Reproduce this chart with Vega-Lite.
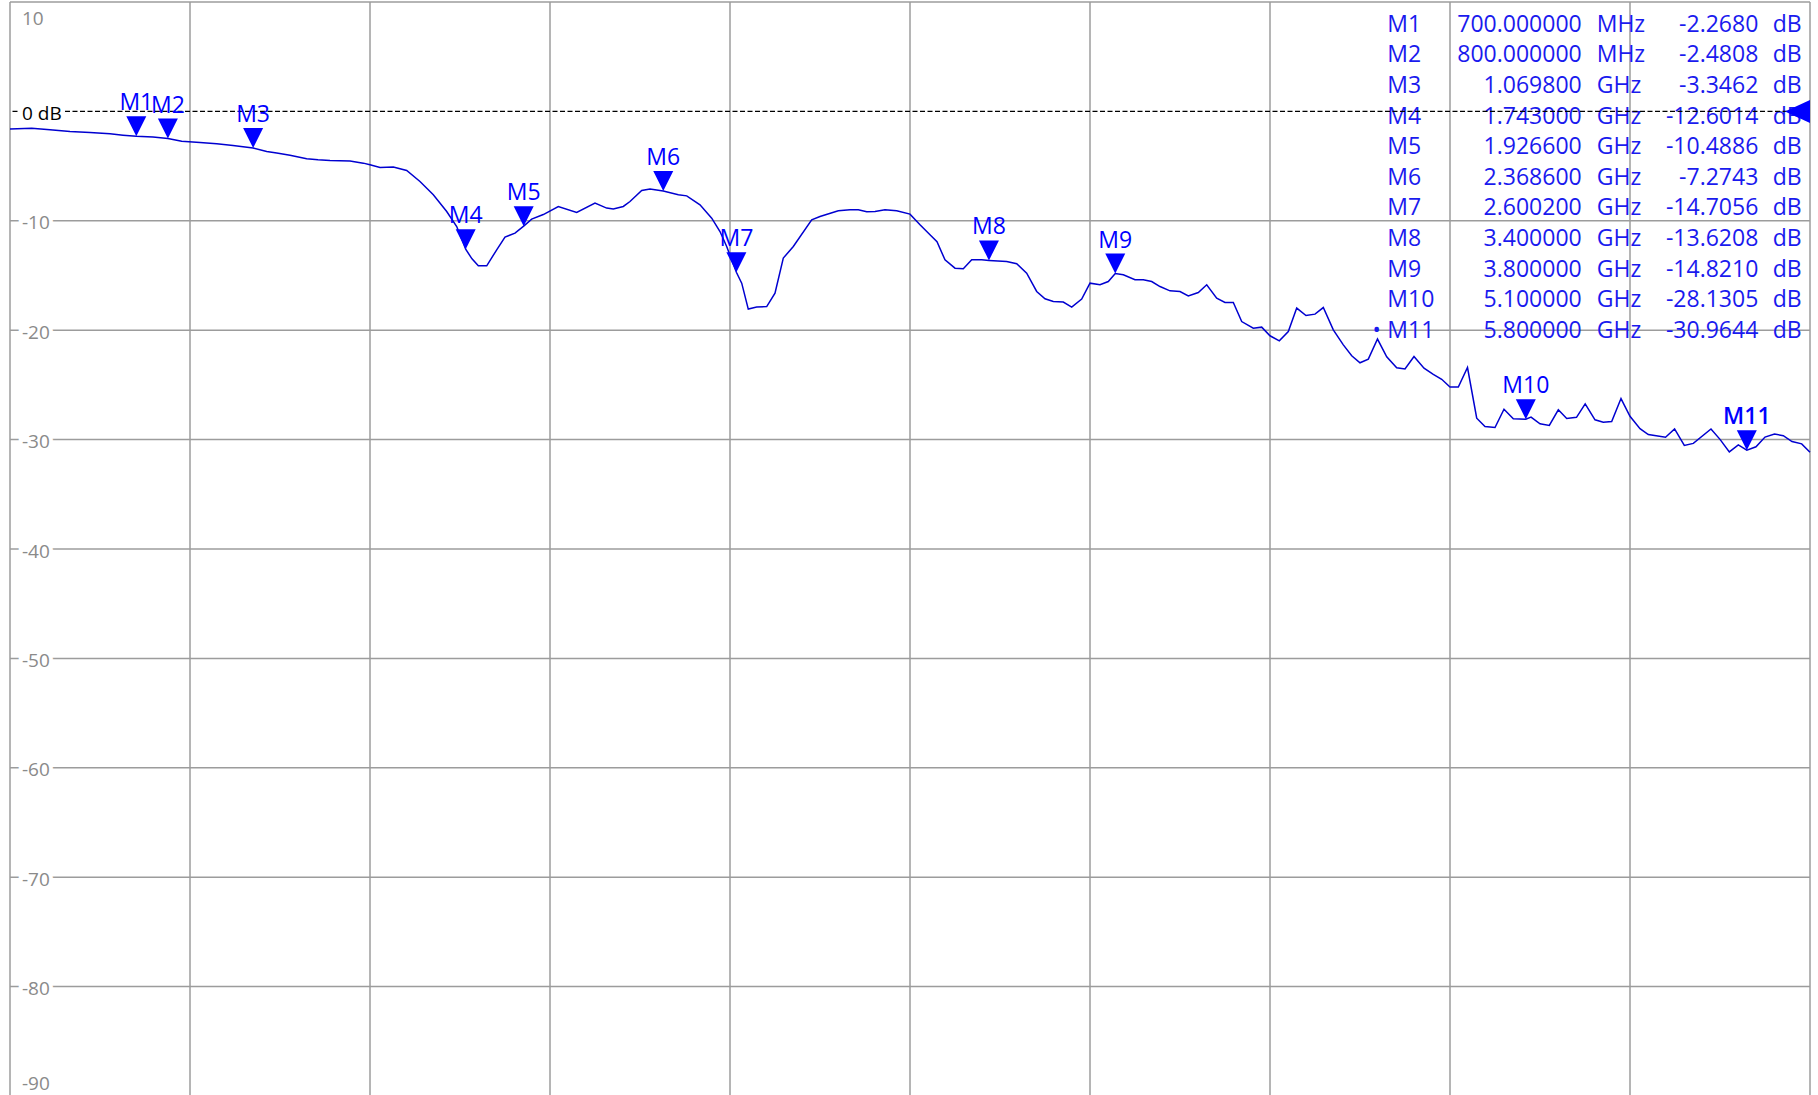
{
  "$schema": "https://vega.github.io/schema/vega-lite/v6.json",
  "width": 1800,
  "height": 1094,
  "padding": {"left": 10, "top": 2, "right": 8, "bottom": 0},
  "autosize": {"type": "none"},
  "background": "white",
  "config": {"view": {"stroke": null}, "font": "Open Sans", "text": {"font": "Open Sans"}},
  "datasets": {
    "trace": [
      {"f":300,"db":-1.62},{"f":368.7,"db":-1.53},{"f":426.7,"db":-1.68},{"f":490,"db":-1.84},{"f":553.3,"db":-1.93},{"f":616.7,"db":-2.05},{"f":657.8,"db":-2.17},{"f":700,"db":-2.268},{"f":752.8,"db":-2.35},{"f":800,"db":-2.481},{"f":843.7,"db":-2.72},{"f":901.7,"db":-2.84},{"f":954.6,"db":-2.96},{"f":1006.2,"db":-3.12},{"f":1069.8,"db":-3.346},{"f":1112.9,"db":-3.67},{"f":1144.6,"db":-3.81},{"f":1186.7,"db":-4.0},{"f":1239.5,"db":-4.33},{"f":1275.3,"db":-4.43},{"f":1313.3,"db":-4.49},{"f":1376.7,"db":-4.54},{"f":1418.8,"db":-4.73},{"f":1440,"db":-4.88},{"f":1471.7,"db":-5.13},{"f":1513.8,"db":-5.09},{"f":1556.2,"db":-5.4},{"f":1598.3,"db":-6.41},{"f":1640.5,"db":-7.62},{"f":1682.9,"db":-9.15},{"f":1714.6,"db":-10.52},{"f":1743,"db":-12.601},{"f":1763,"db":-13.48},{"f":1783,"db":-14.12},{"f":1809.6,"db":-14.12},{"f":1841.2,"db":-12.65},{"f":1867.5,"db":-11.49},{"f":1899.2,"db":-11.13},{"f":1926.6,"db":-10.489},{"f":1952,"db":-9.85},{"f":1988.8,"db":-9.43},{"f":2036.3,"db":-8.69},{"f":2094.5,"db":-9.24},{"f":2152.5,"db":-8.38},{"f":2189.5,"db":-8.84},{"f":2210.5,"db":-8.93},{"f":2242.1,"db":-8.69},{"f":2263.3,"db":-8.24},{"f":2300.4,"db":-7.23},{"f":2326.7,"db":-7.1},{"f":2368.6,"db":-7.274},{"f":2416.3,"db":-7.62},{"f":2442.9,"db":-7.72},{"f":2485,"db":-8.54},{"f":2522.1,"db":-9.76},{"f":2548.3,"db":-10.98},{"f":2569.5,"db":-12.35},{"f":2600.2,"db":-14.706},{"f":2617.1,"db":-15.7},{"f":2637.9,"db":-18.07},{"f":2664.6,"db":-17.89},{"f":2696.2,"db":-17.84},{"f":2722.5,"db":-16.61},{"f":2748.8,"db":-13.41},{"f":2780.5,"db":-12.35},{"f":2838.7,"db":-9.91},{"f":2865,"db":-9.61},{"f":2923,"db":-9.09},{"f":2960,"db":-9.0},{"f":2986.3,"db":-9.0},{"f":3012.9,"db":-9.18},{"f":3039.2,"db":-9.15},{"f":3070.8,"db":-9.0},{"f":3107.9,"db":-9.09},{"f":3150,"db":-9.39},{"f":3181.7,"db":-10.37},{"f":3213.3,"db":-11.28},{"f":3235.5,"db":-11.92},{"f":3260.8,"db":-13.57},{"f":3292.5,"db":-14.33},{"f":3318.8,"db":-14.39},{"f":3345.4,"db":-13.57},{"f":3377.1,"db":-13.57},{"f":3400,"db":-13.621},{"f":3456.2,"db":-13.72},{"f":3487.9,"db":-13.93},{"f":3519.5,"db":-14.78},{"f":3551.2,"db":-16.46},{"f":3577.5,"db":-17.13},{"f":3603.8,"db":-17.38},{"f":3635.4,"db":-17.43},{"f":3662.1,"db":-17.89},{"f":3693.7,"db":-17.16},{"f":3720,"db":-15.7},{"f":3751.7,"db":-15.85},{"f":3777.9,"db":-15.55},{"f":3800,"db":-14.821},{"f":3825.5,"db":-14.94},{"f":3862.5,"db":-15.39},{"f":3888.8,"db":-15.39},{"f":3915.4,"db":-15.55},{"f":3941.7,"db":-16.01},{"f":3973.3,"db":-16.4},{"f":4005,"db":-16.46},{"f":4031.3,"db":-16.86},{"f":4063,"db":-16.56},{"f":4089.6,"db":-15.85},{"f":4121.2,"db":-17.07},{"f":4147.5,"db":-17.47},{"f":4173.8,"db":-17.47},{"f":4200.4,"db":-19.21},{"f":4237.1,"db":-19.81},{"f":4263.7,"db":-19.72},{"f":4290,"db":-20.51},{"f":4319.5,"db":-20.97},{"f":4348,"db":-20.12},{"f":4374.6,"db":-17.98},{"f":4404,"db":-18.66},{"f":4432.5,"db":-18.53},{"f":4458.8,"db":-17.93},{"f":4490.5,"db":-19.97},{"f":4522.2,"db":-21.34},{"f":4548.8,"db":-22.34},{"f":4575,"db":-22.98},{"f":4601.3,"db":-22.64},{"f":4630.4,"db":-20.81},{"f":4659.6,"db":-22.43},{"f":4691.2,"db":-23.44},{"f":4717.5,"db":-23.55},{"f":4746,"db":-22.41},{"f":4777.7,"db":-23.47},{"f":4807.1,"db":-24.03},{"f":4833.7,"db":-24.49},{"f":4860,"db":-25.2},{"f":4886.3,"db":-25.2},{"f":4915.4,"db":-23.41},{"f":4944.6,"db":-28.04},{"f":4970.8,"db":-28.81},{"f":5002.5,"db":-28.9},{"f":5031,"db":-27.22},{"f":5060.5,"db":-28.1},{"f":5100,"db":-28.131},{"f":5116.6,"db":-27.95},{"f":5145,"db":-28.56},{"f":5174.5,"db":-28.7},{"f":5203,"db":-27.28},{"f":5229.6,"db":-28.07},{"f":5260.6,"db":-27.96},{"f":5288.1,"db":-26.73},{"f":5319.2,"db":-28.19},{"f":5345.4,"db":-28.42},{"f":5372,"db":-28.35},{"f":5401.5,"db":-26.25},{"f":5430,"db":-27.87},{"f":5461.7,"db":-29.0},{"f":5488,"db":-29.54},{"f":5542.5,"db":-29.79},{"f":5571.2,"db":-29.03},{"f":5602,"db":-30.53},{"f":5630.5,"db":-30.35},{"f":5686.5,"db":-29.03},{"f":5715,"db":-29.98},{"f":5744.5,"db":-31.12},{"f":5773,"db":-30.48},{"f":5800,"db":-30.964},{"f":5829,"db":-30.66},{"f":5857.5,"db":-29.77},{"f":5887.6,"db":-29.5},{"f":5915.5,"db":-29.64},{"f":5943,"db":-30.18},{"f":5973.7,"db":-30.39},{"f":6000,"db":-31.16}
    ],
    "markers": [
      {"name":"M1","f":700,"db":-2.268,"act":0},
      {"name":"M2","f":800,"db":-2.4808,"act":0},
      {"name":"M3","f":1069.8,"db":-3.3462,"act":0},
      {"name":"M4","f":1743,"db":-12.6014,"act":0},
      {"name":"M5","f":1926.6,"db":-10.4886,"act":0},
      {"name":"M6","f":2368.6,"db":-7.2743,"act":0},
      {"name":"M7","f":2600.2,"db":-14.7056,"act":0},
      {"name":"M8","f":3400,"db":-13.6208,"act":0},
      {"name":"M9","f":3800,"db":-14.821,"act":0},
      {"name":"M10","f":5100,"db":-28.1305,"act":0},
      {"name":"M11","f":5800,"db":-30.9644,"act":1}
    ],
    "vgrid": [{"f":300},{"f":870},{"f":1440},{"f":2010},{"f":2580},{"f":3150},{"f":3720},{"f":4290},{"f":4860},{"f":5430},{"f":6000}],
    "hgrid": [{"v":10},{"v":-10},{"v":-20},{"v":-30},{"v":-40},{"v":-50},{"v":-60},{"v":-70},{"v":-80},{"v":-90}],
    "reflevel": [{"f":6000,"v":0}],
    "ylabels": [
      {"v":10,"t":"10"},{"v":0,"t":"0 dB"},{"v":-10,"t":"-10"},{"v":-20,"t":"-20"},{"v":-30,"t":"-30"},{"v":-40,"t":"-40"},{"v":-50,"t":"-50"},{"v":-60,"t":"-60"},{"v":-70,"t":"-70"},{"v":-80,"t":"-80"},{"v":-90,"t":"-90"}
    ],
    "table": [
      {"row":1,"name":"M1","freq":"700.000000","unit":"MHz","val":"-2.2680","dot":""},
      {"row":2,"name":"M2","freq":"800.000000","unit":"MHz","val":"-2.4808","dot":""},
      {"row":3,"name":"M3","freq":"1.069800","unit":"GHz","val":"-3.3462","dot":""},
      {"row":4,"name":"M4","freq":"1.743000","unit":"GHz","val":"-12.6014","dot":""},
      {"row":5,"name":"M5","freq":"1.926600","unit":"GHz","val":"-10.4886","dot":""},
      {"row":6,"name":"M6","freq":"2.368600","unit":"GHz","val":"-7.2743","dot":""},
      {"row":7,"name":"M7","freq":"2.600200","unit":"GHz","val":"-14.7056","dot":""},
      {"row":8,"name":"M8","freq":"3.400000","unit":"GHz","val":"-13.6208","dot":""},
      {"row":9,"name":"M9","freq":"3.800000","unit":"GHz","val":"-14.8210","dot":""},
      {"row":10,"name":"M10","freq":"5.100000","unit":"GHz","val":"-28.1305","dot":""},
      {"row":11,"name":"M11","freq":"5.800000","unit":"GHz","val":"-30.9644","dot":"•"}
    ]
  },
  "layer": [
    {
      "layer": [
        {
          "data": {"name": "vgrid"},
          "mark": {"type": "rule", "color": "#9c9c9c", "strokeWidth": 1.5},
          "encoding": {
            "x": {"field": "f", "type": "quantitative", "scale": {"domain": [300, 6000], "nice": false, "zero": false}, "axis": null}
          }
        },
        {
          "data": {"name": "hgrid"},
          "mark": {"type": "rule", "color": "#9c9c9c", "strokeWidth": 1.5},
          "encoding": {
            "y": {"field": "v", "type": "quantitative", "scale": {"domain": [-90, 10], "nice": false, "zero": false}, "axis": null}
          }
        }
      ]
    },
    {
      "data": {"name": "table"},
      "encoding": {
        "y": {"field": "row", "type": "quantitative", "scale": {"domain": [1, 11], "range": [29.7, 335.7], "nice": false, "zero": false}, "axis": null}
      },
      "layer": [
        {
          "mark": {"type": "text", "align": "left", "baseline": "alphabetic", "fontSize": 23, "color": "#1a1aee"},
          "encoding": {
            "x": {"datum": 1, "type": "quantitative", "scale": {"domain": [0, 1, 2, 3, 4, 5], "range": [1366.7, 1377.3, 1571.7, 1586.7, 1748.3, 1762.7], "nice": false, "zero": false}, "axis": null},
            "text": {"field": "name"}
          }
        },
        {
          "mark": {"type": "text", "align": "right", "baseline": "alphabetic", "fontSize": 23, "color": "#1a1aee"},
          "encoding": {"x": {"datum": 2, "type": "quantitative"}, "text": {"field": "freq"}}
        },
        {
          "mark": {"type": "text", "align": "left", "baseline": "alphabetic", "fontSize": 23, "color": "#1a1aee"},
          "encoding": {"x": {"datum": 3, "type": "quantitative"}, "text": {"field": "unit"}}
        },
        {
          "mark": {"type": "text", "align": "right", "baseline": "alphabetic", "fontSize": 23, "color": "#1a1aee"},
          "encoding": {"x": {"datum": 4, "type": "quantitative"}, "text": {"field": "val"}}
        },
        {
          "mark": {"type": "text", "align": "left", "baseline": "alphabetic", "fontSize": 23, "color": "#1a1aee", "text": "dB"},
          "encoding": {"x": {"datum": 5, "type": "quantitative"}}
        },
        {
          "mark": {"type": "text", "align": "center", "baseline": "alphabetic", "fontSize": 22, "dy": -1, "color": "#1a1aee"},
          "encoding": {"x": {"datum": 0, "type": "quantitative"}, "text": {"field": "dot"}}
        }
      ]
    },
    {
      "layer": [
        {
          "data": {"name": "reflevel"},
          "mark": {"type": "rule", "color": "black", "strokeDash": [5, 2.5], "strokeWidth": 1.2},
          "encoding": {
            "y": {"field": "v", "type": "quantitative", "scale": {"domain": [-90, 10], "nice": false, "zero": false}, "axis": null}
          }
        },
        {
          "data": {"name": "ylabels"},
          "encoding": {
            "x": {"datum": 300, "type": "quantitative", "scale": {"domain": [300, 6000], "nice": false, "zero": false}, "axis": null},
            "y": {"field": "v", "type": "quantitative", "axis": null},
            "text": {"field": "t"}
          },
          "layer": [
            {"transform": [{"filter": "datum.v < 10 && datum.v > -90"}], "mark": {"type": "text", "align": "left", "baseline": "alphabetic", "dx": 12, "dy": 8.5, "fontSize": 19, "fill": "white", "stroke": "white", "strokeWidth": 8}},
            {"transform": [{"filter": "datum.v < 10 && datum.v > -90"}], "mark": {"type": "text", "align": "left", "baseline": "alphabetic", "dx": 12, "dy": 8.5, "fontSize": 19},
              "encoding": {"color": {"condition": {"test": "datum.v === 0", "value": "black"}, "value": "#8a8a8a"}}},
            {"transform": [{"filter": "datum.v === 10"}], "mark": {"type": "text", "align": "left", "baseline": "alphabetic", "dx": 12, "dy": 22.8, "fontSize": 19, "color": "#8a8a8a"}},
            {"transform": [{"filter": "datum.v === -90"}], "mark": {"type": "text", "align": "left", "baseline": "alphabetic", "dx": 12, "dy": -6, "fontSize": 19, "color": "#8a8a8a"}}
          ]
        },
        {
          "data": {"name": "trace"},
          "mark": {"type": "line", "color": "#0000d0", "strokeWidth": 1.5},
          "encoding": {
            "x": {"field": "f", "type": "quantitative", "axis": null},
            "y": {"field": "db", "type": "quantitative", "axis": null}
          }
        },
        {
          "data": {"name": "markers"},
          "encoding": {
            "x": {"field": "f", "type": "quantitative", "axis": null},
            "y": {"field": "db", "type": "quantitative", "axis": null}
          },
          "layer": [
            {"mark": {"type": "point", "shape": "M-1,-2L1,-2L0,0Z", "size": 400, "filled": true, "color": "#0000ff", "opacity": 1, "strokeWidth": 0}},
            {"transform": [{"filter": "datum.act === 0"}], "mark": {"type": "text", "align": "center", "baseline": "alphabetic", "dy": -26, "fontSize": 23, "color": "#0000ff"}, "encoding": {"text": {"field": "name"}}},
            {"transform": [{"filter": "datum.act === 1"}], "mark": {"type": "text", "align": "center", "baseline": "alphabetic", "dy": -26, "fontSize": 23, "fontWeight": 600, "color": "#0000ff"}, "encoding": {"text": {"field": "name"}}}
          ]
        },
        {
          "data": {"name": "reflevel"},
          "mark": {"type": "point", "shape": "M-2,0L0,-0.92L0,0.92Z", "size": 625, "filled": true, "color": "#0000ff", "opacity": 1, "strokeWidth": 0},
          "encoding": {
            "x": {"field": "f", "type": "quantitative", "axis": null},
            "y": {"field": "v", "type": "quantitative", "axis": null}
          }
        }
      ]
    }
  ],
  "resolve": {"scale": {"x": "independent", "y": "independent"}}
}
